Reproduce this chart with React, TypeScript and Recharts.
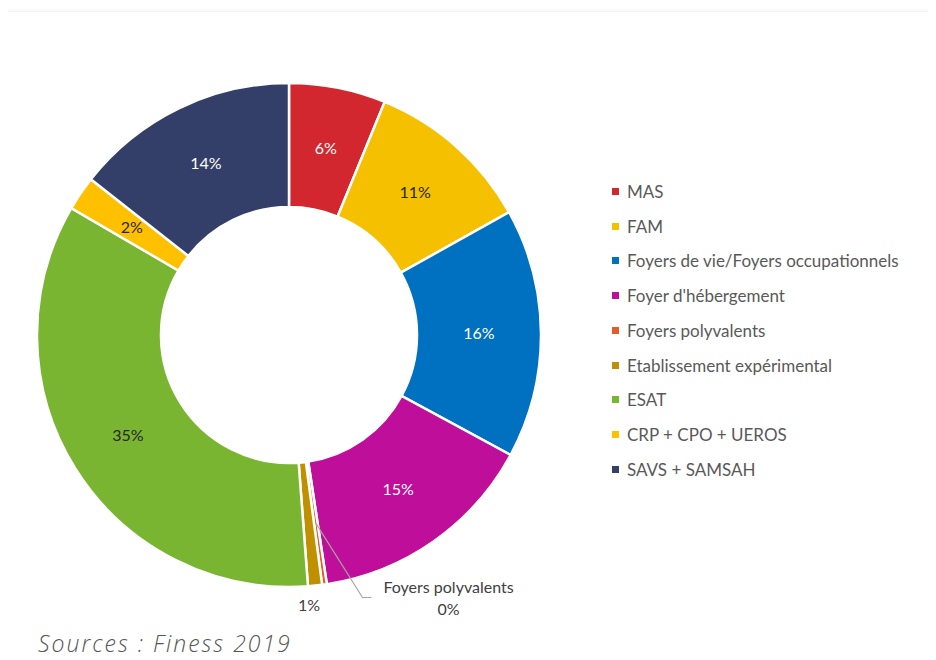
import { PieChart, Pie, Cell, Legend } from 'recharts'

const categories = [
  'MAS',
  'FAM',
  'Foyers de vie/Foyers occupationnels',
  "Foyer d'hébergement",
  'Foyers polyvalents',
  'Etablissement expérimental',
  'ESAT',
  'CRP + CPO + UEROS',
  'SAVS + SAMSAH',
]
const shares = [6.2, 10.7, 16.0, 14.7, 0.3, 0.9, 34.6, 2.2, 14.4]
const colors = ['#D3272F', '#F4C000', '#0070C0', '#BE0E9A', '#E35D27', '#BF9000', '#7AB532', '#FFC000', '#333F68']
const labelColors = ['#fff', '#262626', '#fff', '#fff', '#404040', '#404040', '#262626', '#262626', '#fff']

const data = categories.map((name, i) => ({ name, value: shares[i] }))

const RAD = Math.PI / 180
const FONT = 'Lato, "Noto Sans", sans-serif'

function renderLabel(props: any) {
  const { cx, cy, midAngle, innerRadius, outerRadius, percent, index } = props
  const pct = Math.round(percent * 100) + '%'
  const cos = Math.cos(-midAngle * RAD)
  const sin = Math.sin(-midAngle * RAD)
  if (index === 4) {
    const mr = (innerRadius + outerRadius) / 2
    const sx = cx + mr * cos
    const sy = cy + mr * sin
    const ox = cx + outerRadius * cos
    const oy = cy + outerRadius * sin
    const ex = ox + 38
    const ey = oy + 13
    return (
      <g>
        <polyline points={`${sx},${sy} ${ex},${ey} ${ex + 9},${ey}`} fill="none" stroke="#A6A6A6" strokeWidth={1.2} />
        <text x={ex + 86} y={ey - 4} textAnchor="middle" fill={labelColors[index]} fontSize={16} fontFamily={FONT}>
          {categories[index]}
        </text>
        <text x={ex + 86} y={ey + 18} textAnchor="middle" fill={labelColors[index]} fontSize={16} fontFamily={FONT}>
          {pct}
        </text>
      </g>
    )
  }
  if (index === 5) {
    const r = outerRadius + 20
    return (
      <text x={cx + r * cos - 8} y={cy + r * sin + 5} textAnchor="middle" fill={labelColors[index]} fontSize={16} fontFamily={FONT}>
        {pct}
      </text>
    )
  }
  const r = (innerRadius + outerRadius) / 2
  return (
    <text x={cx + r * cos} y={cy + r * sin + 5} textAnchor="middle" fill={labelColors[index]} fontSize={16} fontFamily={FONT}>
      {pct}
    </text>
  )
}

function LegendList() {
  return (
    <div style={{ fontFamily: FONT, fontSize: 17, color: '#595959' }}>
      {categories.map((c, i) => (
        <div key={c} style={{ height: 34.75, display: 'flex', alignItems: 'center' }}>
          <span style={{ width: 7, height: 7, background: colors[i], marginRight: 8, display: 'inline-block' }} />
          <span>{c}</span>
        </div>
      ))}
    </div>
  )
}

export default function App() {
  return (
    <div style={{ position: 'relative', width: 936, height: 660, margin: -8, background: '#fff', overflow: 'hidden' }}>
      <div
        style={{
          position: 'absolute',
          left: 5,
          top: 11,
          width: 960,
          height: 700,
          borderTop: '1px solid #f2f2f2',
          borderLeft: '1px solid #f2f2f2',
          boxShadow: '-1px -1px 4px rgba(0,0,0,0.04)',
        }}
      />
      <div style={{ position: 'absolute', left: 0, top: 0 }}>
        <PieChart width={936} height={660} margin={{ top: 0, right: 0, bottom: 0, left: 0 }}>
          <Pie
            data={data}
            dataKey="value"
            nameKey="name"
            cx={289}
            cy={335}
            innerRadius={128}
            outerRadius={252}
            startAngle={90}
            endAngle={-270}
            stroke="#fff"
            strokeWidth={2.5}
            label={renderLabel}
            labelLine={false}
            isAnimationActive={false}
          >
            {data.map((_, i) => (
              <Cell key={i} fill={colors[i]} />
            ))}
          </Pie>
          <Legend
            layout="vertical"
            align="right"
            verticalAlign="top"
            content={() => <LegendList />}
            wrapperStyle={{ left: 612, top: 174, width: 320 }}
          />
        </PieChart>
      </div>
      <div
        style={{
          position: 'absolute',
          left: 38,
          top: 627,
          fontFamily: '"Open Sans", sans-serif',
          fontStyle: 'italic',
          fontWeight: 300,
          fontSize: 23,
          letterSpacing: 2,
          color: '#555',
          whiteSpace: 'nowrap',
        }}
      >
        Sources : Finess 2019
      </div>
    </div>
  )
}
